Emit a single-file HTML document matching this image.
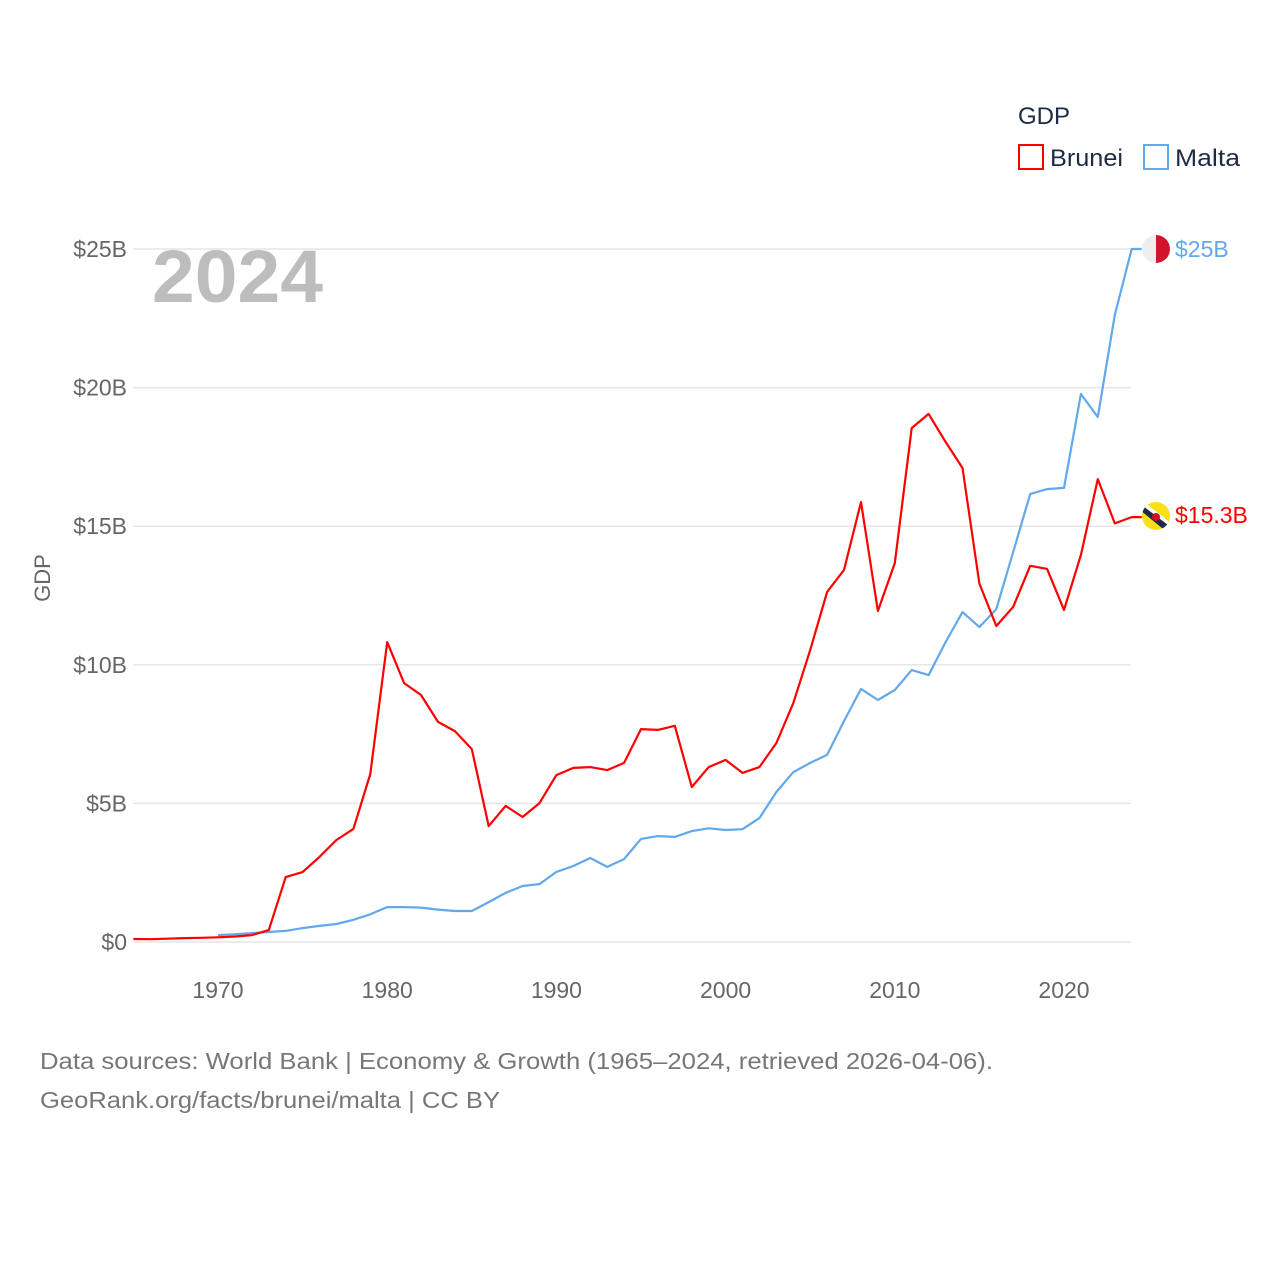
<!DOCTYPE html>
<html><head><meta charset="utf-8"><style>
body{margin:0;background:#fff;}
svg{display:block;font-family:"Liberation Sans",sans-serif;}
</style></head><body>
<svg id="chart" width="1280" height="1280" viewBox="0 0 1280 1280">
<rect width="1280" height="1280" fill="#fff"/>
<g id="grid"></g>
<g id="yticks"></g>
<g id="xticks"></g>
<text x="50" y="578" transform="rotate(-90 50 578)" text-anchor="middle" font-size="22" fill="#666">GDP</text>
<text x="152" y="302" font-size="74" font-weight="bold" fill="#bdbdbd" textLength="171" lengthAdjust="spacingAndGlyphs">2024</text>
<g id="series"></g>
<g>
<text x="1018" y="124" font-size="24" fill="#1f2a44">GDP</text>
<g><rect x="1019" y="145" width="24" height="24" fill="none" stroke="#ff0000" stroke-width="2"/><text x="1050" y="166" font-size="24" fill="#1f2a44" textLength="73" lengthAdjust="spacingAndGlyphs">Brunei</text></g>
<g><rect x="1144" y="145" width="24" height="24" fill="none" stroke="#62a8ea" stroke-width="2"/><text x="1175" y="166" font-size="24" fill="#1f2a44" textLength="65" lengthAdjust="spacingAndGlyphs">Malta</text></g>
</g>
<g>
<clipPath id="cm"><circle cx="1156" cy="249" r="14"/></clipPath>
<g clip-path="url(#cm)"><rect x="1142" y="235" width="14" height="28" fill="#eeeeee"/><rect x="1156" y="235" width="14" height="28" fill="#cf142b"/></g>
</g>
<text x="1175" y="257" font-size="23" fill="#62a8ea">$25B</text>
<g>
<clipPath id="cb"><circle cx="1156" cy="516" r="14"/></clipPath>
<g clip-path="url(#cb)"><rect x="1142" y="502" width="28" height="28" fill="#f7e017"/><polygon points="1140,506 1144,502 1172,524 1168,530" fill="#fff"/><polygon points="1140,510 1143,506 1172,528 1168,533" fill="#1f2a44"/><circle cx="1156" cy="517" r="4" fill="#cf1126"/></g>
</g>
<text x="1175" y="523" font-size="23" fill="#ff0000">$15.3B</text>
<text x="40" y="1069" font-size="23" fill="#777" textLength="953" lengthAdjust="spacingAndGlyphs">Data sources: World Bank | Economy &amp; Growth (1965–2024, retrieved 2026-04-06).</text>
<text x="40" y="1108" font-size="23" fill="#777" textLength="460" lengthAdjust="spacingAndGlyphs">GeoRank.org/facts/brunei/malta | CC BY</text>
</svg>
<script>
const bruneiYears0 = 1965;
const bruneiValues = [0.11,0.1,0.12,0.14,0.15,0.17,0.2,0.25,0.43,2.34,2.52,3.07,3.68,4.08,6.06,10.82,9.34,8.91,7.94,7.61,6.96,4.18,4.91,4.51,5.01,6.02,6.28,6.31,6.2,6.46,7.68,7.65,7.8,5.59,6.31,6.57,6.1,6.31,7.18,8.62,10.53,12.63,13.42,15.87,11.94,13.67,18.54,19.05,18.04,17.1,12.93,11.4,12.09,13.57,13.46,11.98,13.96,16.7,15.1,15.33];
const maltaYears0 = 1970;
const maltaValues = [0.25,0.28,0.32,0.36,0.4,0.5,0.58,0.65,0.8,1.0,1.26,1.26,1.24,1.17,1.12,1.12,1.44,1.77,2.02,2.09,2.53,2.74,3.03,2.71,2.99,3.72,3.82,3.79,4.0,4.1,4.04,4.07,4.47,5.41,6.13,6.46,6.75,7.97,9.13,8.73,9.09,9.81,9.63,10.82,11.9,11.36,12.01,14.07,16.16,16.34,16.38,19.77,18.94,22.62,25.0];
const yTickValues = [0,5,10,15,20,25];
const yTickLabels = ["$0","$5B","$10B","$15B","$20B","$25B"];
const xTickYears = [1970,1980,1990,2000,2010,2020];

const NS="http://www.w3.org/2000/svg";
const xS = y => 218 + (y-1970)*(1064-218)/50;
const yS = v => 942 - v*(942-249)/25;
function mk(tag, attrs, parent){const e=document.createElementNS(NS,tag);for(const k in attrs)e.setAttribute(k,attrs[k]);parent.appendChild(e);return e;}
const grid=document.getElementById('grid'), yt=document.getElementById('yticks'), xt=document.getElementById('xticks'), ser=document.getElementById('series');
yTickValues.forEach((v,i)=>{
  const l=mk('line',{x1:133,x2:1131,y1:yS(v),y2:yS(v),stroke:'#e6e6e6','stroke-width':1.5},grid);
  
  
  const t=mk('text',{x:127,y:yS(v)+8,'text-anchor':'end','font-size':23,fill:'#666'},yt);
  t.textContent=yTickLabels[i];
  
  
});
xTickYears.forEach(y=>{
  const t=mk('text',{x:xS(y),y:998,'text-anchor':'middle','font-size':23,fill:'#666'},xt);
  t.textContent=y;
  
  
});
function line(vals,y0,color,name){
  const pts=vals.map((v,i)=>xS(y0+i).toFixed(1)+','+yS(v).toFixed(1));
  pts.push((xS(y0+vals.length-1)+10).toFixed(1)+','+yS(vals[vals.length-1]).toFixed(1));
  const p=mk('polyline',{points:pts.join(' '),fill:'none',stroke:color,'stroke-width':2.2,'stroke-linejoin':'round'},ser);
  
  
}
line(maltaValues,maltaYears0,'#62a8ea','malta-line');
line(bruneiValues,bruneiYears0,'#ff0000','brunei-line');
</script>
</body></html>
